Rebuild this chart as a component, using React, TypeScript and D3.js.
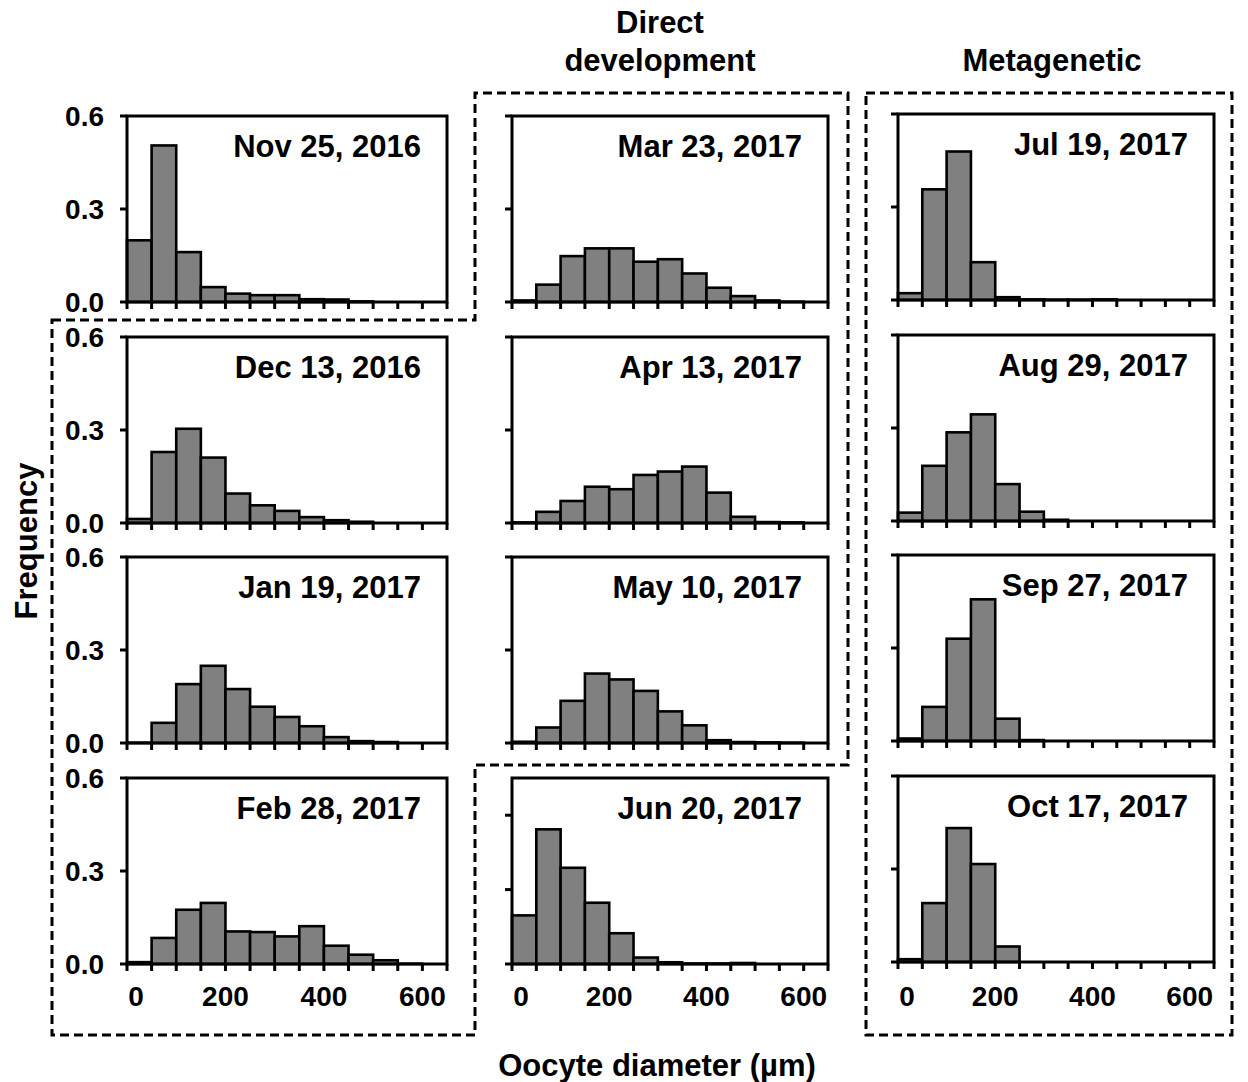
import React from 'react';
import * as d3 from 'd3';

// frequency per 50 µm bin, 0–650 µm
const BIN_WIDTH = 50;
const BIN_COUNT = 13;

const NOV25 = [0.199, 0.505, 0.161, 0.048, 0.027, 0.022, 0.022, 0.009, 0.008, 0.002, 0, 0, 0];
const DEC13 = [0.013, 0.229, 0.304, 0.211, 0.095, 0.057, 0.039, 0.019, 0.009, 0.004, 0, 0, 0];
const JAN19 = [0.001, 0.065, 0.19, 0.249, 0.174, 0.117, 0.084, 0.054, 0.019, 0.006, 0.003, 0, 0];
const FEB28 = [0.006, 0.084, 0.175, 0.197, 0.105, 0.103, 0.089, 0.122, 0.059, 0.03, 0.012, 0.001, 0];
const MAR23 = [0.005, 0.056, 0.148, 0.173, 0.173, 0.13, 0.138, 0.092, 0.046, 0.019, 0.005, 0.001, 0];
const APR13 = [0.002, 0.036, 0.071, 0.117, 0.109, 0.155, 0.166, 0.182, 0.098, 0.02, 0.003, 0.002, 0];
const MAY10 = [0.004, 0.05, 0.136, 0.224, 0.205, 0.168, 0.102, 0.057, 0.009, 0.003, 0.002, 0.001, 0];
const JUN20 = [0.196, 0.543, 0.388, 0.247, 0.124, 0.026, 0.007, 0.002, 0.002, 0.004, 0, 0, 0];
const JUL19 = [0.022, 0.357, 0.479, 0.122, 0.009, 0.002, 0.001, 0.001, 0.002, 0, 0, 0, 0];
const AUG29 = [0.027, 0.178, 0.286, 0.344, 0.119, 0.03, 0.004, 0, 0, 0, 0, 0, 0];
const SEP27 = [0.008, 0.11, 0.33, 0.457, 0.072, 0.003, 0, 0, 0, 0, 0, 0, 0];
const OCT17 = [0.009, 0.19, 0.432, 0.316, 0.05, 0, 0, 0, 0, 0, 0, 0, 0];

const PANEL_TITLES = [
  'Nov 25, 2016', 'Dec 13, 2016', 'Jan 19, 2017', 'Feb 28, 2017',
  'Mar 23, 2017', 'Apr 13, 2017', 'May 10, 2017', 'Jun 20, 2017',
  'Jul 19, 2017', 'Aug 29, 2017', 'Sep 27, 2017', 'Oct 17, 2017',
];
const PANEL_VALUES = [NOV25, DEC13, JAN19, FEB28, MAR23, APR13, MAY10, JUN20, JUL19, AUG29, SEP27, OCT17];
const PANEL_YMAX = [0.6, 0.6, 0.6, 0.6, 0.6, 0.6, 0.6, 0.75, 0.6, 0.6, 0.6, 0.6];

const Y_TICKS = [0, 0.3, 0.6];
const X_TICK_LABELS = [0, 200, 400, 600];

// layout
const COL_LEFT = [127, 512, 898];
const COL_WIDTH = [320, 316, 316];
const COL_DY = [0, 0, -2];
const ROW_TOP = [116, 337, 557, 778];
const PLOT_H = 186;
const FONT = "'Liberation Sans', Arial, Helvetica, sans-serif";

function Panel({ idx }: { idx: number }) {
  const col = Math.floor(idx / 4);
  const row = idx % 4;
  const left = COL_LEFT[col];
  const w = COL_WIDTH[col];
  const top = ROW_TOP[row] + COL_DY[col];
  const values = PANEL_VALUES[idx];

  const x = d3.scaleLinear().domain([0, BIN_WIDTH * BIN_COUNT]).range([left, left + w]);
  const y = d3.scaleLinear().domain([0, PANEL_YMAX[idx]]).range([top + PLOT_H, top]);
  const edges = d3.range(BIN_COUNT + 1).map(i => i * BIN_WIDTH);

  return (
    <g>
      {values.map((v, i) => (
        <rect key={i}
          x={x(i * BIN_WIDTH)} width={x(BIN_WIDTH) - x(0)}
          y={y(v)} height={y(0) - y(v)}
          fill="#808080" stroke="#000" strokeWidth={2.6} />
      ))}
      <rect x={left} y={top} width={w} height={PLOT_H} fill="none" stroke="#000" strokeWidth={3} />
      {Y_TICKS.map(t => (
        <line key={t} x1={left - 7} x2={left} y1={y(t)} y2={y(t)} stroke="#000" strokeWidth={3} />
      ))}
      {edges.map(e => (
        <line key={e} x1={x(e)} x2={x(e)} y1={top + PLOT_H} y2={top + PLOT_H + 7} stroke="#000" strokeWidth={3} />
      ))}
      {col === 0 && Y_TICKS.map(t => (
        <text key={t} x={104} y={y(t) + 10} textAnchor="end" fontSize={28} fontWeight="bold" fontFamily={FONT}>
          {d3.format('.1f')(t)}
        </text>
      ))}
      {row === 3 && X_TICK_LABELS.map(t => (
        <text key={t} x={x(t) + (t === 0 ? 9 : 0)} y={1006} textAnchor="middle" fontSize={28} fontWeight="bold" fontFamily={FONT}>
          {t}
        </text>
      ))}
      <text x={left + w - 26} y={top + 41} textAnchor="end" fontSize={31} fontWeight="bold" fontFamily={FONT}>
        {PANEL_TITLES[idx]}
      </text>
    </g>
  );
}

export default function App() {
  const dash = { fill: 'none', stroke: '#000', strokeWidth: 3, strokeDasharray: '9 5' };
  const directPath = d3.line()([
    [52, 320], [475, 320], [475, 93], [848, 93], [848, 765], [475, 765], [475, 1035], [52, 1035],
  ]) + 'Z';
  return (
    <svg width={1248} height={1082} style={{ position: 'absolute', left: 0, top: 0, background: '#fff' }}>
      <rect width={1248} height={1082} fill="#fff" />
      <path d={directPath} {...dash} />
      <rect x={866} y={93} width={366} height={942} {...dash} />
      {PANEL_VALUES.map((_, i) => <Panel key={i} idx={i} />)}
      <g fontFamily={FONT} fontWeight="bold" fontSize={31} textAnchor="middle">
        <text x={660} y={33}>Direct</text>
        <text x={660} y={71}>development</text>
        <text x={1052} y={71}>Metagenetic</text>
        <text x={657} y={1076}>Oocyte diameter (µm)</text>
        <text transform="translate(37,541) rotate(-90)">Frequency</text>
      </g>
    </svg>
  );
}
